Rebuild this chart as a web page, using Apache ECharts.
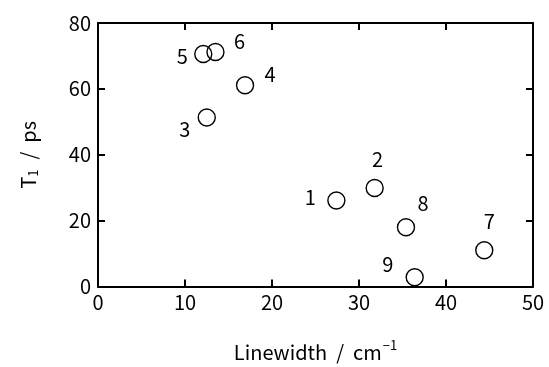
<!DOCTYPE html>
<html><head><meta charset="utf-8">
<script src="https://cdn.jsdelivr.net/npm/echarts@6/dist/echarts.min.js"></script>
<style>html,body{margin:0;padding:0;background:#fff}#c{width:549px;height:367px}</style>
</head><body><div id="c"></div>
<script>
const names = ["1","2","3","4","5","6","7","8","9"];
const linewidth = [27.4, 31.8, 12.5, 16.9, 12.1, 13.5, 44.4, 35.4, 36.4];
const t1 = [26.1, 29.9, 51.3, 61.1, 70.6, 71.2, 11.0, 18.0, 2.8];
const xTicks = [0,10,20,30,40,50];
const yTicks = [0,20,40,60,80];
// label offsets (style)
const labelOffsets = [[-26,-3],[3,-29],[-22,12],[25,-11],[-21,2],[24,-11],[5,-29],[17,-24],[-27,-13]];

const FONT = '"Noto Sans CJK JP", "Noto Sans", sans-serif';
const chart = echarts.init(document.getElementById('c'));
const data = names.map((n,i)=>({value:[linewidth[i], t1[i]], name:n,
  label:{offset:labelOffsets[i]}}));
const axisCommon = {
  axisLine:{show:true, onZero:false, lineStyle:{color:'#000', width:2}},
  axisTick:{show:true, inside:true, length:7, lineStyle:{color:'#000', width:2}},
  splitLine:{show:false}
};
chart.setOption({
  animation:false,
  grid:{left:98, right:16, top:23, bottom:80},
  xAxis:[
    Object.assign({type:'value', min:0, max:50, interval:10, position:'bottom',
      axisLabel:{color:'#000', fontSize:20, fontFamily:FONT, margin:6},
      name:'Linewidth  /  cm{sup|−1}', nameLocation:'middle', nameGap:52,
      nameTextStyle:{color:'#000', fontSize:20, fontFamily:FONT,
        rich:{sup:{fontSize:13, fontFamily:FONT, color:'#000', padding:[0,0,14,1]}}}
    }, axisCommon),
    Object.assign({type:'value', min:0, max:50, interval:10, position:'top',
      axisLabel:{show:false}}, axisCommon)
  ],
  yAxis:[
    Object.assign({type:'value', min:0, max:80, interval:20, position:'left',
      axisLabel:{color:'#000', fontSize:20, fontFamily:FONT, margin:7},
      name:'T{sub|1}  /  ps', nameLocation:'middle', nameGap:58, nameRotate:90,
      nameTextStyle:{color:'#000', fontSize:20, fontFamily:FONT,
        rich:{sub:{fontSize:13, fontFamily:FONT, color:'#000', padding:[10,1,0,0]}}}
    }, axisCommon),
    Object.assign({type:'value', min:0, max:80, interval:20, position:'right',
      axisLabel:{show:false}}, axisCommon)
  ],
  series:[{
    type:'scatter', symbol:'circle', symbolSize:17,
    itemStyle:{color:'rgba(255,255,255,0)', borderColor:'#000', borderWidth:1.4, opacity:1},
    label:{show:true, position:'inside', formatter:'{b}', color:'#000', fontSize:20, fontFamily:FONT},
    data:data
  }]
});
</script></body></html>
